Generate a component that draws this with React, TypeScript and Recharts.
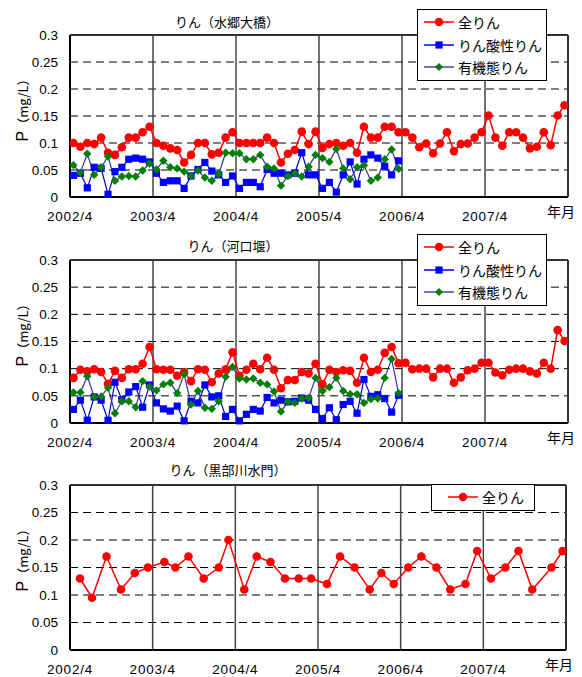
import React from 'react';
import { LineChart, Line, XAxis, YAxis, CartesianGrid, ReferenceLine } from 'recharts';

// 軸
const yTicks = [0, 0.05, 0.1, 0.15, 0.2, 0.25, 0.3];
const xTicks = [0, 12, 24, 36, 48, 60, 72];
const xTickLabels = ['2002/4', '2003/4', '2004/4', '2005/4', '2006/4', '2007/4', '年月'];
const yearLines = [12, 24, 36, 48, 60];

// 水郷大橋 (2002/4〜 月1回)
const suigoTotal = [
  0.10, 0.093, 0.10, 0.098, 0.11, 0.082, 0.078, 0.092, 0.11, 0.11, 0.12, 0.13,
  0.10, 0.095, 0.09, 0.087, 0.064, 0.078, 0.10, 0.10, 0.079, 0.082, 0.11, 0.12,
  0.10, 0.10, 0.10, 0.10, 0.11, 0.10, 0.064, 0.08, 0.087, 0.121, 0.098, 0.121,
  0.091, 0.098, 0.10, 0.095, 0.10, 0.082, 0.13, 0.11, 0.11, 0.13, 0.13, 0.12,
  0.12, 0.11, 0.092, 0.099, 0.081, 0.099, 0.12, 0.085, 0.098, 0.099, 0.11, 0.12,
  0.151, 0.11, 0.095, 0.12, 0.12, 0.11, 0.09, 0.093, 0.12, 0.096, 0.151, 0.17,
];
const suigoPO4 = [
  0.04, 0.044, 0.017, 0.055, 0.053, 0.005, 0.047, 0.055, 0.07, 0.072, 0.07, 0.065,
  0.044, 0.027, 0.03, 0.03, 0.016, 0.039, 0.051, 0.064, 0.048, 0.041, 0.027, 0.039,
  0.016, 0.027, 0.027, 0.019, 0.051, 0.044, 0.044, 0.041, 0.044, 0.082, 0.041, 0.041,
  0.016, 0.027, 0.009, 0.041, 0.065, 0.024, 0.07, 0.078, 0.072, 0.057, 0.041, 0.067,
];
const suigoOrg = [
  0.059, 0.045, 0.08, 0.041, 0.055, 0.075, 0.03, 0.038, 0.039, 0.038, 0.049, 0.062,
  0.051, 0.067, 0.055, 0.053, 0.047, 0.039, 0.049, 0.036, 0.03, 0.042, 0.082, 0.081,
  0.081, 0.07, 0.07, 0.078, 0.056, 0.053, 0.021, 0.039, 0.044, 0.038, 0.056, 0.078,
  0.072, 0.065, 0.089, 0.053, 0.033, 0.055, 0.059, 0.03, 0.036, 0.07, 0.088, 0.052,
];

// 河口堰
const kakoTotal = [
  0.083, 0.098, 0.095, 0.099, 0.094, 0.072, 0.096, 0.083, 0.099, 0.099, 0.109, 0.14,
  0.099, 0.098, 0.098, 0.087, 0.094, 0.077, 0.099, 0.098, 0.075, 0.091, 0.099, 0.13,
  0.087, 0.098, 0.109, 0.099, 0.12, 0.098, 0.064, 0.079, 0.079, 0.094, 0.091, 0.109,
  0.071, 0.098, 0.094, 0.097, 0.096, 0.074, 0.12, 0.094, 0.098, 0.129, 0.14, 0.11,
  0.111, 0.099, 0.10, 0.10, 0.084, 0.10, 0.10, 0.074, 0.084, 0.097, 0.10, 0.111,
  0.111, 0.093, 0.088, 0.098, 0.10, 0.10, 0.095, 0.091, 0.111, 0.10, 0.171, 0.151,
];
const kakoPO4 = [
  0.025, 0.042, 0.005, 0.048, 0.042, 0.005, 0.075, 0.043, 0.057, 0.067, 0.029, 0.07,
  0.037, 0.026, 0.022, 0.031, 0.004, 0.04, 0.037, 0.07, 0.048, 0.05, 0.012, 0.025,
  0.004, 0.016, 0.025, 0.022, 0.047, 0.037, 0.042, 0.039, 0.04, 0.046, 0.042, 0.025,
  0.008, 0.028, 0.006, 0.034, 0.04, 0.018, 0.08, 0.049, 0.052, 0.045, 0.02, 0.051,
];
const kakoOrg = [
  0.056, 0.056, 0.086, 0.048, 0.049, 0.065, 0.018, 0.04, 0.04, 0.029, 0.077, 0.067,
  0.06, 0.071, 0.074, 0.055, 0.09, 0.034, 0.059, 0.028, 0.026, 0.04, 0.085, 0.103,
  0.082, 0.08, 0.082, 0.074, 0.071, 0.058, 0.021, 0.039, 0.037, 0.045, 0.046, 0.083,
  0.059, 0.066, 0.083, 0.059, 0.053, 0.053, 0.037, 0.044, 0.045, 0.083, 0.118, 0.055,
];

// 黒部川水門 (ほぼ隔月、採水月は2002/4からの経過月)
const kurobeMonths = [
  1.45, 3.2, 5.3, 7.4, 9.4, 11.3, 13.7, 15.3, 17.2, 19.4, 21.6, 23.0,
  25.3, 27.1, 29.1, 31.2, 33.2, 35.0, 37.3, 39.2, 41.3, 43.5, 45.2, 47.0,
  49.1, 51.0, 53.2, 55.2, 57.4, 59.1, 61.1, 63.2, 65.1, 67.1, 69.9, 71.5,
];
const kurobeTotal = [
  0.13, 0.095, 0.17, 0.11, 0.14, 0.15, 0.16, 0.15, 0.17, 0.13, 0.15, 0.20,
  0.11, 0.17, 0.16, 0.13, 0.13, 0.13, 0.12, 0.17, 0.15, 0.11, 0.14, 0.12,
  0.15, 0.17, 0.15, 0.11, 0.12, 0.18, 0.13, 0.15, 0.18, 0.11, 0.15, 0.18,
];

const monthly = (total: number[], po4: number[], org: number[]) =>
  total.map((v, i) => ({ m: i + 0.5, total: v, po4: po4[i], org: org[i] }));

const suigoData = monthly(suigoTotal, suigoPO4, suigoOrg);
const kakoData = monthly(kakoTotal, kakoPO4, kakoOrg);
const kurobeData = kurobeMonths.map((m, i) => ({ m, total: kurobeTotal[i] }));

const NUM_FONT = "'Liberation Sans', Arial, 'Noto Sans CJK JP', sans-serif";
const JP_FONT = "'Noto Sans CJK JP', 'Liberation Sans', sans-serif";

const RED = '#FF0000';
const BLUE = '#0000FF';
const GREEN = '#008000';
const BLUE_LINE = '#0000CC';
const ORG_LINE = '#333399';

// マーカー
const redDot = (p: any) =>
  p.cy == null ? <g key={`r${p.index}`} /> : <circle key={`r${p.index}`} cx={p.cx} cy={p.cy} r={4.3} fill={RED} />;
const blueDot = (p: any) =>
  p.cy == null ? <g key={`b${p.index}`} /> : (
    <rect key={`b${p.index}`} x={p.cx - 3.6} y={p.cy - 3.6} width={7.2} height={7.2} fill={BLUE} />
  );
const greenDot = (p: any) =>
  p.cy == null ? <g key={`g${p.index}`} /> : (
    <polygon
      key={`g${p.index}`}
      points={`${p.cx},${p.cy - 4.2} ${p.cx + 4.2},${p.cy} ${p.cx},${p.cy + 4.2} ${p.cx - 4.2},${p.cy}`}
      fill={GREEN}
    />
  );

const XTick = (props: any) => {
  const { x, y, payload } = props;
  const label = xTickLabels[xTicks.indexOf(payload.value)];
  if (payload.value === 72) {
    return (
      <text x={x - 7} y={y + 12} textAnchor="middle" fontSize={14} fontFamily={JP_FONT} fill="#000">
        {label}
      </text>
    );
  }
  return (
    <text x={x} y={y + 16} textAnchor="middle" fontSize={13.5} letterSpacing={0.8} fontFamily={NUM_FONT} fill="#000">
      {label}
    </text>
  );
};

const YLabel = (props: any) => {
  const vb = props.viewBox || { x: 0, y: 35 };
  const cx = vb.x + 22;
  const cy = vb.y + 72;
  return (
    <text
      transform={`translate(${cx},${cy}) rotate(-90)`}
      textAnchor="middle"
      dominantBaseline="central"
      fontFamily={JP_FONT}
      fill="#000"
    >
      <tspan fontSize={16} fontFamily={NUM_FONT}>P</tspan>
      <tspan fontSize={13}>（mg/L）</tspan>
    </text>
  );
};

type LegendItem = { name: string; line: string; marker: 'circle' | 'square' | 'diamond'; color: string };

const LegendIcon = ({ item }: { item: LegendItem }) => (
  <svg width={30} height={14} style={{ flex: 'none' }}>
    <line x1={0} y1={7} x2={30} y2={7} stroke={item.line} strokeWidth={1.5} />
    {item.marker === 'circle' && <circle cx={15} cy={7} r={4.2} fill={item.color} />}
    {item.marker === 'square' && <rect x={11.4} y={3.4} width={7.2} height={7.2} fill={item.color} />}
    {item.marker === 'diamond' && <polygon points="15,3 19,7 15,11 11,7" fill={item.color} />}
  </svg>
);

const LegendBox = ({ items, left, top, width, padLeft }: { items: LegendItem[]; left: number; top: number; width: number; padLeft: number }) => (
  <div
    style={{
      position: 'absolute',
      left,
      top,
      width,
      boxSizing: 'border-box',
      border: '1px solid #000',
      background: '#fff',
      padding: `1px 0 1px ${padLeft}px`,
      fontFamily: JP_FONT,
      fontSize: 14,
      color: '#000',
    }}
  >
    {items.map(it => (
      <div key={it.name} style={{ display: 'flex', alignItems: 'center', height: 22.5 }}>
        <LegendIcon item={it} />
        <span style={{ marginLeft: 4, whiteSpace: 'nowrap', lineHeight: '22px' }}>{it.name}</span>
      </div>
    ))}
  </div>
);

const fullLegend: LegendItem[] = [
  { name: '全りん', line: RED, marker: 'circle', color: RED },
  { name: 'りん酸性りん', line: BLUE, marker: 'square', color: BLUE },
  { name: '有機態りん', line: '#4444AA', marker: 'diamond', color: GREEN },
];
const totalLegend: LegendItem[] = [fullLegend[0]];

const Title = ({ text, cx, cy }: { text: string; cx: number; cy: number }) => (
  <div
    style={{
      position: 'absolute',
      left: cx - 150,
      top: cy - 10,
      width: 300,
      textAlign: 'center',
      lineHeight: '20px',
      fontFamily: JP_FONT,
      fontSize: 13,
      color: '#000',
    }}
  >
    {text}
  </div>
);

interface PanelProps {
  data: any[];
  height: number;
  right: number;
  axisHeight: number;
  showSub: boolean;
}

const Panel = ({ data, height, right, axisHeight, showSub }: PanelProps) => (
  <LineChart width={582} height={height} data={data} margin={{ top: 35, right, bottom: 0, left: 0 }}>
    <CartesianGrid vertical={false} stroke="#000" strokeDasharray="8 5" strokeWidth={1} />
    {yearLines.map(m => (
      <ReferenceLine key={m} x={m} stroke="#444" strokeWidth={1.5} />
    ))}
    <ReferenceLine y={0.3} stroke="#333" strokeWidth={2} />
    <ReferenceLine x={72} stroke="#333" strokeWidth={2} />
    <XAxis
      type="number"
      dataKey="m"
      domain={[0, 72]}
      ticks={xTicks}
      interval={0}
      height={axisHeight}
      tickLine={false}
      axisLine={{ stroke: '#000', strokeWidth: 2 }}
      tick={<XTick />}
      allowDataOverflow
    />
    <YAxis
      type="number"
      domain={[0, 0.3]}
      ticks={yTicks}
      interval={0}
      width={70}
      tickLine={false}
      tickSize={8}
      tickMargin={4}
      axisLine={{ stroke: '#000', strokeWidth: 2 }}
      tick={{ fill: '#000', fontSize: 13.5, fontFamily: NUM_FONT }}
      tickFormatter={(v: number) => String(v)}
      label={<YLabel />}
    />
    <Line type="linear" dataKey="total" stroke={RED} strokeWidth={1.5} dot={redDot} activeDot={false} isAnimationActive={false} />
    {showSub && (
      <Line type="linear" dataKey="po4" stroke={BLUE_LINE} strokeWidth={1.2} dot={blueDot} activeDot={false} isAnimationActive={false} />
    )}
    {showSub && (
      <Line type="linear" dataKey="org" stroke={ORG_LINE} strokeWidth={1.2} dot={greenDot} activeDot={false} isAnimationActive={false} />
    )}
  </LineChart>
);

export default function App() {
  return (
    <div style={{ position: 'absolute', left: 0, top: 0, width: 582, height: 677, background: '#fff', overflow: 'hidden' }}>
      <div style={{ position: 'absolute', left: 0, top: 0 }}>
        <Panel data={suigoData} height={225} right={14} axisHeight={28} showSub />
      </div>
      <div style={{ position: 'absolute', left: 0, top: 225 }}>
        <Panel data={kakoData} height={225} right={14} axisHeight={27} showSub />
      </div>
      <div style={{ position: 'absolute', left: 0, top: 450 }}>
        <Panel data={kurobeData} height={227} right={16} axisHeight={27} showSub={false} />
      </div>

      <Title text="りん（水郷大橋）" cx={227} cy={22} />
      <Title text="りん（河口堰）" cx={233} cy={246} />
      <Title text="りん（黒部川水門）" cx={228} cy={470} />

      <LegendBox items={fullLegend} left={417} top={9} width={130} padLeft={6} />
      <LegendBox items={fullLegend} left={417} top={234} width={130} padLeft={6} />
      <LegendBox items={totalLegend} left={431} top={484} width={104} padLeft={16} />
    </div>
  );
}
